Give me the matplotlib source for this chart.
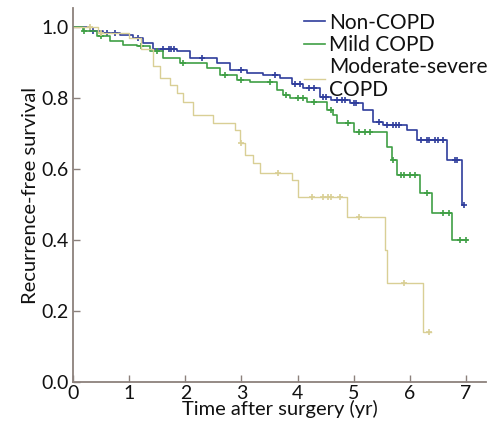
import numpy as np
import matplotlib
matplotlib.use("Agg")
import matplotlib.pyplot as plt

plt.rcParams['font.family'] = ['Lato', 'DejaVu Sans']

# step points (time in years, survival after the drop)
non_t = [0, 0.3, 0.54, 0.84, 1.07, 1.25, 1.43, 1.85, 2.08, 2.56, 2.8, 3.1, 3.39, 3.69,
         3.9, 4.1, 4.4, 4.6, 4.94, 5.17, 5.35, 5.53, 5.95, 6.13, 6.67, 6.93]
non_s = [1.0, 0.99, 0.985, 0.977, 0.969, 0.955, 0.94, 0.932, 0.913, 0.9, 0.879, 0.872,
         0.865, 0.856, 0.84, 0.828, 0.803, 0.795, 0.786, 0.766, 0.732, 0.724, 0.71,
         0.682, 0.625, 0.50]
non_end = 6.97
non_cens = [0.35, 0.6, 0.75, 1.15, 1.6, 1.7, 1.75, 1.8, 2.3, 3.0, 3.6, 3.95, 4.05, 4.2,
            4.3, 4.45, 4.5, 4.7, 4.8, 4.85, 5.0, 5.05, 5.45, 5.6, 5.7, 5.75, 5.8, 6.2,
            6.3, 6.35, 6.45, 6.5, 6.6, 6.8, 6.85, 6.96]

mild_t = [0, 0.18, 0.43, 0.66, 0.89, 1.14, 1.37, 1.6, 1.9, 2.39, 2.62, 2.92, 3.15, 3.64,
          3.74, 3.87, 4.17, 4.53, 4.63, 4.7, 5.0, 5.6, 5.69, 5.78, 6.19, 6.4, 6.76]
mild_s = [1.0, 0.99, 0.975, 0.96, 0.95, 0.946, 0.932, 0.913, 0.9, 0.885, 0.865, 0.851,
          0.845, 0.822, 0.81, 0.80, 0.789, 0.766, 0.752, 0.73, 0.704, 0.662, 0.625,
          0.583, 0.532, 0.476, 0.40]
mild_end = 7.02
mild_cens = [0.2, 0.5, 1.2, 1.5, 1.95, 2.7, 3.0, 3.5, 3.8, 4.0, 4.1, 4.3, 4.6, 4.9, 5.1,
             5.2, 5.3, 5.7, 5.85, 5.9, 6.0, 6.1, 6.3, 6.6, 6.7, 6.9, 7.0]

mod_t = [0, 0.45, 1.0, 1.2, 1.43, 1.55, 1.73, 1.85, 1.96, 2.14, 2.5, 2.89, 2.98, 3.07,
         3.21, 3.33, 3.9, 4.0, 4.88, 5.56, 5.6, 6.24]
mod_s = [1.0, 0.985, 0.97, 0.94, 0.89, 0.856, 0.837, 0.814, 0.79, 0.752, 0.73, 0.71,
         0.673, 0.64, 0.617, 0.589, 0.569, 0.52, 0.465, 0.372, 0.28, 0.14]
mod_end = 6.37
mod_cens = [0.3, 0.5, 3.0, 3.65, 4.25, 4.45, 4.55, 4.6, 4.75, 5.1, 5.9, 6.35]

groups = [
    ("Non-COPD", non_t, non_s, non_end, non_cens, "#2f3d9c", 1.2),
    ("Mild COPD", mild_t, mild_s, mild_end, mild_cens, "#3f9f45", 1.2),
    ("Moderate-severe\nCOPD", mod_t, mod_s, mod_end, mod_cens, "#d9cf95", 1.0),
]

fig = plt.figure(figsize=(4.88, 4.29), dpi=100)
ax = fig.add_axes([0.15, 0.11, 0.846, 0.871])

for name, t, s, end, cens, col, lw in groups:
    tt = list(t) + [end]
    ss = list(s) + [s[-1]]
    ax.step(tt, ss, where='post', color=col, lw=lw, label=name)
    idx = np.searchsorted(t, cens, side='right') - 1
    ax.plot(cens, np.array(s)[idx], '+', color=col, ms=4, mew=1.2)

ax.set_xlim(0, 7.36)
ax.set_ylim(0, 1.054)
ax.set_xticks(range(8))
ax.set_yticks([0.0, 0.2, 0.4, 0.6, 0.8, 1.0])
ax.set_yticklabels(["0.0", "0.2", "0.4", "0.6", "0.8", "1.0"])

spine_col = "#8c817c"
for side in ['top', 'right']:
    ax.spines[side].set_visible(False)
for side in ['left', 'bottom']:
    ax.spines[side].set_color(spine_col)
    ax.spines[side].set_linewidth(1.3)
ax.tick_params(direction='in', length=5, width=1.0, color=spine_col,
               labelsize=14, pad=3, labelcolor='#111111')
ax.tick_params(axis='x', pad=2)

ax.set_xlabel("Time after surgery (yr)", fontsize=14.5, labelpad=-1, color='#111111')
ax.set_ylabel("Recurrence-free survival", fontsize=14.5, labelpad=2, color='#111111')

leg = ax.legend(loc='upper left', bbox_to_anchor=(0.54, 1.01), frameon=False,
                fontsize=15, handlelength=1.0, handletextpad=0.2, labelspacing=0.1,
                borderaxespad=0)
for txt in leg.get_texts():
    txt.set_color('#111111')

fig.savefig("out.png", dpi=100)
